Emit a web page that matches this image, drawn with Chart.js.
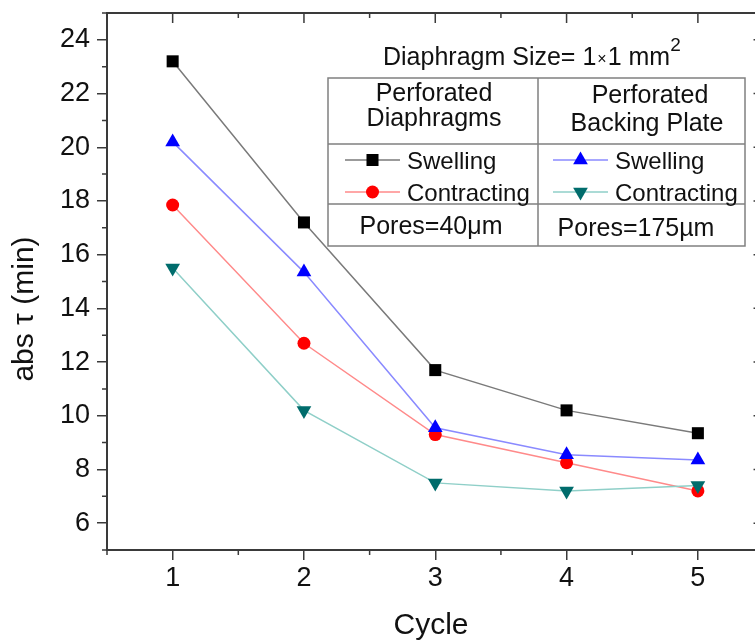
<!DOCTYPE html>
<html>
<head>
<meta charset="utf-8">
<script src="https://cdn.jsdelivr.net/npm/chart.js@4.4.1/dist/chart.umd.min.js"></script>
<style>
html,body{margin:0;padding:0;background:#fff;overflow:hidden;}
canvas{display:block;}
</style>
</head>
<body>
<canvas id="c" width="755" height="644"></canvas>
<script>
// ---- data ----
const cycles = [1, 2, 3, 4, 5];
const pdSwelling = [23.2, 17.2, 11.7, 10.2, 9.35];
const pdContracting = [17.85, 12.7, 9.3, 8.25, 7.2];
const bpSwelling = [20.2, 15.35, 9.55, 8.55, 8.35];
const bpContracting = [15.5, 10.2, 7.5, 7.2, 7.4];
const yTicks = [6, 8, 10, 12, 14, 16, 18, 20, 22, 24];
const yMinorTicks = [5, 7, 9, 11, 13, 15, 17, 19, 21, 23, 25];
const xTicks = [1, 2, 3, 4, 5];
const xMinorTicks = [0.5, 1.5, 2.5, 3.5, 4.5];
const yTitle = 'abs \u03C4 (min)';
const xTitle = 'Cycle';
const legendTitle = ['Diaphragm Size= 1', '\u00D7', '1 mm', '2'];
const groupHeads = [['Perforated', 'Diaphragms'], ['Perforated', 'Backing Plate']];
const poresText = ['Pores=40\u03BCm', 'Pores=175\u00B5m'];

const X_MIN = 0.5, X_MAX_VISIBLE = 5.435, X_AXIS_END = 5.5;
const FONT = '"Liberation Sans", Arial, Helvetica, sans-serif';
const AXIS = '#3a3a3a';

function pts(vals) { return cycles.map((c, i) => ({ x: c, y: vals[i] })); }

const dsPDS = { label: 'Swelling', data: pts(pdSwelling), borderColor: '#7a7a7a', backgroundColor: '#000',
  pointBackgroundColor: '#000', pointBorderColor: '#000', pointStyle: 'rect', pointRadius: 8.5, borderWidth: 1.5, pointBorderWidth: 0 };
const dsBPS = { label: 'Swelling', data: pts(bpSwelling), borderColor: '#8a8aff', backgroundColor: '#0000ff',
  pointBackgroundColor: '#0000ff', pointBorderColor: '#0000ff', pointStyle: 'triangle', pointRadius: 8.5, borderWidth: 1.5, pointBorderWidth: 0 };
const dsBPC = { label: 'Contracting', data: pts(bpContracting), borderColor: '#8fcfc8', backgroundColor: '#006c6c',
  pointBackgroundColor: '#006c6c', pointBorderColor: '#006c6c', pointStyle: 'triangle', pointRotation: 180, pointRadius: 8.5, borderWidth: 1.5, pointBorderWidth: 0 };
const dsPDC = { label: 'Contracting', data: pts(pdContracting), borderColor: '#ff8a8a', backgroundColor: '#ff0000',
  pointBackgroundColor: '#ff0000', pointBorderColor: '#ff0000', pointStyle: 'circle', pointRadius: 6.5, borderWidth: 1.5, pointBorderWidth: 0 };

function drawMarker(ctx, ds, x, y) {
  const r = ds.pointRadius, rot = (ds.pointRotation || 0) * Math.PI / 180;
  ctx.save();
  ctx.fillStyle = ds.pointBackgroundColor;
  ctx.beginPath();
  if (ds.pointStyle === 'rect') {
    const s = Math.SQRT1_2 * r;
    ctx.rect(x - s, y - s, 2 * s, 2 * s);
  } else if (ds.pointStyle === 'circle') {
    ctx.arc(x, y, r, 0, Math.PI * 2);
  } else {
    let a = rot;
    ctx.moveTo(x + Math.sin(a) * r, y - Math.cos(a) * r);
    a += 2 * Math.PI / 3;
    ctx.lineTo(x + Math.sin(a) * r, y - Math.cos(a) * r);
    a += 2 * Math.PI / 3;
    ctx.lineTo(x + Math.sin(a) * r, y - Math.cos(a) * r);
    ctx.closePath();
  }
  ctx.fill();
  ctx.restore();
}

const framePlugin = {
  id: 'frame',
  beforeDatasetsDraw(chart) {
    const { ctx, chartArea: a, scales } = chart;
    const xs = scales.x, ys = scales.y;
    const xr = xs.getPixelForValue(X_AXIS_END);
    ctx.save();
    ctx.strokeStyle = AXIS;
    ctx.lineWidth = 2;
    ctx.strokeRect(a.left, a.top, xr - a.left, a.bottom - a.top);
    ctx.lineWidth = 1.5;
    ctx.beginPath();
    yMinorTicks.forEach(v => {
      const p = ys.getPixelForValue(v);
      ctx.moveTo(a.left - 5, p); ctx.lineTo(a.left, p);
      ctx.moveTo(xr, p); ctx.lineTo(xr - 5, p);
    });
    yTicks.forEach(v => {
      const p = ys.getPixelForValue(v);
      ctx.moveTo(xr, p); ctx.lineTo(xr - 10, p);
    });
    xMinorTicks.forEach(v => {
      const p = xs.getPixelForValue(v);
      ctx.moveTo(p, a.bottom); ctx.lineTo(p, a.bottom + 5);
      ctx.moveTo(p, a.top); ctx.lineTo(p, a.top + 5);
    });
    xTicks.forEach(v => {
      const p = xs.getPixelForValue(v);
      ctx.moveTo(p, a.top); ctx.lineTo(p, a.top + 10);
    });
    ctx.stroke();
    ctx.fillStyle = '#111';
    ctx.font = '30px ' + FONT;
    ctx.textAlign = 'center';
    ctx.textBaseline = 'middle';
    ctx.translate(25, 309);
    ctx.rotate(-Math.PI / 2);
    ctx.fillText(yTitle, 0, 0);
    ctx.restore();
  }
};

const tablePlugin = {
  id: 'table',
  afterDatasetsDraw(chart) {
    const ctx = chart.ctx;
    ctx.save();
    ctx.fillStyle = '#111';
    ctx.textBaseline = 'alphabetic';
    ctx.textAlign = 'left';
    let x = 383;
    ctx.font = '25px ' + FONT; ctx.fillText(legendTitle[0], x, 65); x += ctx.measureText(legendTitle[0]).width + 1;
    ctx.font = '16px ' + FONT; ctx.fillText(legendTitle[1], x, 64); x += ctx.measureText(legendTitle[1]).width + 1;
    ctx.font = '25px ' + FONT; ctx.fillText(legendTitle[2], x, 65); x += ctx.measureText(legendTitle[2]).width;
    ctx.font = '19px ' + FONT; ctx.fillText(legendTitle[3], x, 51);
    const L = 328, R = 745, T = 78, B = 246, M = 538, H1 = 144, H2 = 204;
    ctx.fillStyle = '#fff';
    ctx.fillRect(L, T, R - L, B - T);
    ctx.strokeStyle = '#808080';
    ctx.lineWidth = 1.5;
    ctx.strokeRect(L, T, R - L, B - T);
    ctx.beginPath();
    ctx.moveTo(M, T); ctx.lineTo(M, B);
    ctx.moveTo(L, H1); ctx.lineTo(R, H1);
    ctx.moveTo(L, H2); ctx.lineTo(R, H2);
    ctx.stroke();
    ctx.fillStyle = '#111';
    ctx.font = '25px ' + FONT;
    ctx.textAlign = 'center';
    ctx.fillText(groupHeads[0][0], 434, 101);
    ctx.fillText(groupHeads[0][1], 434, 126);
    ctx.fillText(groupHeads[1][0], 650, 103);
    ctx.fillText(groupHeads[1][1], 647, 131);
    const groups = [[dsPDS, dsPDC], [dsBPS, dsBPC]];
    const colX = [[345, 400, 407], [553, 608, 615]];
    const rowY = [160, 192];
    groups.forEach((g, gi) => {
      g.forEach((ds, ri) => {
        const [x0, x1, tx] = colX[gi];
        const y = rowY[ri];
        ctx.strokeStyle = ds.borderColor;
        ctx.lineWidth = 1.5;
        ctx.beginPath(); ctx.moveTo(x0, y); ctx.lineTo(x1, y); ctx.stroke();
        drawMarker(ctx, ds, (x0 + x1) / 2, y);
        ctx.fillStyle = '#111';
        ctx.font = '24px ' + FONT;
        ctx.textAlign = 'left';
        ctx.fillText(ds.label, tx, y + 8.5);
      });
    });
    ctx.textAlign = 'center';
    ctx.font = '25px ' + FONT;
    ctx.fillText(poresText[0], 431, 234);
    ctx.fillText(poresText[1], 636, 236);
    ctx.restore();
  }
};

new Chart(document.getElementById('c'), {
  type: 'line',
  data: { datasets: [dsPDS, dsBPS, dsBPC, dsPDC] },
  options: {
    responsive: false,
    animation: false,
    events: [],
    layout: { autoPadding: false, padding: { top: 13, right: 0, left: 0, bottom: 0 } },
    plugins: { legend: { display: false }, tooltip: { enabled: false }, title: { display: false } },
    scales: {
      x: {
        type: 'linear', min: X_MIN, max: X_MAX_VISIBLE,
        afterBuildTicks: s => { s.ticks = xTicks.map(v => ({ value: v })); },
        afterFit: s => { s.height = 94; s.paddingLeft = 0; s.paddingRight = 0; },
        grid: { drawOnChartArea: false, drawTicks: true, tickLength: 10, color: AXIS, lineWidth: 1.5 },
        border: { display: false },
        ticks: { color: '#111', font: { family: FONT, size: 27 }, padding: 2, maxRotation: 0, autoSkip: false },
        title: { display: true, text: xTitle, color: '#111', font: { family: FONT, size: 30 }, padding: { top: 0, bottom: 0 } }
      },
      y: {
        type: 'linear', min: 5, max: 25,
        afterBuildTicks: s => { s.ticks = yTicks.map(v => ({ value: v })); },
        afterFit: s => { s.width = 107; s.paddingTop = 0; s.paddingBottom = 0; },
        grid: { drawOnChartArea: false, drawTicks: true, tickLength: 10, color: AXIS, lineWidth: 1.5 },
        border: { display: false },
        ticks: { color: '#111', font: { family: FONT, size: 27 }, padding: 7, autoSkip: false }
      }
    }
  },
  plugins: [framePlugin, tablePlugin]
});
</script>
</body>
</html>
